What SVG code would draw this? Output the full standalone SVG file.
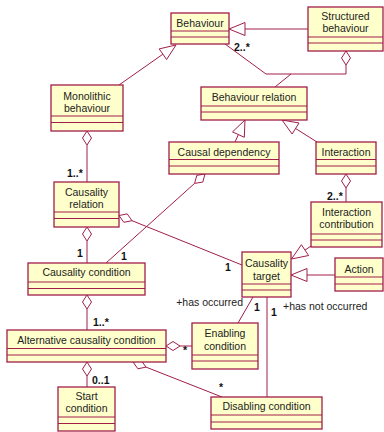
<svg xmlns="http://www.w3.org/2000/svg" width="384" height="432" viewBox="0 0 384 432">
<style>
.box{fill:#FFFFCC;stroke:#A01E4A;stroke-width:1.3}
.div{stroke:#A01E4A;stroke-width:1}
.ln{fill:none;stroke:#A01E4A;stroke-width:1}
.tri{fill:#FFFFFF;stroke:#A01E4A;stroke-width:1}
.dia{fill:#FFFFFF;stroke:#A01E4A;stroke-width:1}
text{font-family:"Liberation Sans",Arial,sans-serif;font-size:10.5px;fill:#222222}
.nm{text-anchor:middle}
.m{font-weight:bold;fill:#111111}
</style>
<rect width="384" height="432" fill="#FFFFFF"/>
<g id="connectors">
<line class="ln" x1="308" y1="29" x2="245" y2="29"/>
<polygon class="tri" points="229,29 245,22.5 245,35.5"/>
<line class="ln" x1="119" y1="85" x2="162.9" y2="54.2"/>
<polygon class="tri" points="176,45 166.6,59.5 159.2,48.9"/>
<polygon class="dia" points="346,51 350.5,58 346,65 341.5,58"/>
<polyline class="ln" points="346,65 346,74 266,74 225,44"/>
<line class="ln" x1="291" y1="74" x2="275" y2="87"/>
<line class="ln" x1="235" y1="142" x2="238.4" y2="134.6"/>
<polygon class="tri" points="245,120 244.3,137.3 232.5,131.9"/>
<line class="ln" x1="295.6" y1="128.5" x2="317" y2="142"/>
<polygon class="tri" points="282,120 292.1,134 299,123"/>
<polygon class="dia" points="87,131 91.5,138 87,145 82.5,138"/>
<line class="ln" x1="87" y1="145" x2="87" y2="182"/>
<polygon class="dia" points="87,227 91.5,234 87,241 82.5,234"/>
<line class="ln" x1="87" y1="241" x2="87" y2="263"/>
<polygon class="dia" points="119,215.5 123.8,222.3 132,220.7 127.2,213.9"/>
<line class="ln" x1="132" y1="220.7" x2="242" y2="265"/>
<polygon class="dia" points="205,174 202.8,182.05 194.6,183.4 196.8,175.35"/>
<line class="ln" x1="194.6" y1="183.4" x2="106" y2="263"/>
<polygon class="dia" points="346,174 350.5,181 346,188 341.5,181"/>
<line class="ln" x1="346" y1="188" x2="346" y2="202"/>
<line class="ln" x1="305" y1="250.1" x2="311" y2="246"/>
<polygon class="tri" points="291.5,259 308.6,255.5 301.4,244.7"/>
<line class="ln" x1="307" y1="275" x2="335" y2="275"/>
<polygon class="tri" points="291,275 307,268.5 307,281.5"/>
<polygon class="dia" points="87,295 91.5,302 87,309 82.5,302"/>
<line class="ln" x1="87" y1="309" x2="87" y2="330"/>
<polygon class="dia" points="166,346 173,341.5 180,346 173,350.5"/>
<line class="ln" x1="180" y1="346" x2="192" y2="346"/>
<polygon class="dia" points="133,362 137.9,368.8 146,367.1 141.2,360.4"/>
<line class="ln" x1="146" y1="367.1" x2="222" y2="397"/>
<polygon class="dia" points="87,362 91.5,369 87,376 82.5,369"/>
<line class="ln" x1="87" y1="376" x2="87" y2="387"/>
<line class="ln" x1="238" y1="323" x2="253" y2="297"/>
<line class="ln" x1="267" y1="297" x2="267" y2="397"/>
<text class="m" x="234" y="51">2..*</text>
<text class="m" x="67" y="177">1..*</text>
<text class="m" x="77" y="257">1</text>
<text class="m" x="225" y="271">1</text>
<text class="m" x="121" y="260">1</text>
<text class="m" x="327" y="200">2..*</text>
<text class="m" x="93" y="326">1..*</text>
<text class="m" x="183" y="354">*</text>
<text class="m" x="219" y="391">*</text>
<text class="m" x="92" y="384">0..1</text>
<text class="m" x="254" y="311">1</text>
<text class="m" x="271" y="316">1</text>
<text x="243" y="306" text-anchor="end">+has occurred</text>
<text x="283" y="310">+has not occurred</text>
</g>
<g id="behaviour">
<rect class="box" x="171" y="13" width="58" height="31"/>
<line class="div" x1="171" y1="31" x2="229" y2="31"/><line class="div" x1="171" y1="37" x2="229" y2="37"/>
<text class="nm" x="200" y="26.5">Behaviour</text>
</g>
<g id="structured-behaviour">
<rect class="box" x="308" y="7" width="75" height="44"/>
<line class="div" x1="308" y1="37" x2="383" y2="37"/><line class="div" x1="308" y1="43" x2="383" y2="43"/>
<text class="nm" x="345.5" y="19.5">Structured</text>
<text class="nm" x="345.5" y="32">behaviour</text>
</g>
<g id="monolithic-behaviour">
<rect class="box" x="51" y="85" width="72" height="46"/>
<line class="div" x1="51" y1="116" x2="123" y2="116"/><line class="div" x1="51" y1="122.5" x2="123" y2="122.5"/>
<text class="nm" x="87" y="99.5">Monolithic</text>
<text class="nm" x="87" y="112">behaviour</text>
</g>
<g id="behaviour-relation">
<rect class="box" x="201" y="87" width="106" height="33"/>
<line class="div" x1="201" y1="106" x2="307" y2="106"/><line class="div" x1="201" y1="112" x2="307" y2="112"/>
<text class="nm" x="254" y="100.5">Behaviour relation</text>
</g>
<g id="causal-dependency">
<rect class="box" x="169" y="142" width="110" height="32"/>
<line class="div" x1="169" y1="159.5" x2="279" y2="159.5"/><line class="div" x1="169" y1="166" x2="279" y2="166"/>
<text class="nm" x="224" y="155.5">Causal dependency</text>
</g>
<g id="interaction">
<rect class="box" x="316" y="142" width="60" height="32"/>
<line class="div" x1="316" y1="159.5" x2="376" y2="159.5"/><line class="div" x1="316" y1="166" x2="376" y2="166"/>
<text class="nm" x="346" y="155.5">Interaction</text>
</g>
<g id="causality-relation">
<rect class="box" x="54" y="182" width="65" height="45"/>
<line class="div" x1="54" y1="212" x2="119" y2="212"/><line class="div" x1="54" y1="218.5" x2="119" y2="218.5"/>
<text class="nm" x="86.5" y="195.5">Causality</text>
<text class="nm" x="86.5" y="207.5">relation</text>
</g>
<g id="interaction-contribution">
<rect class="box" x="311" y="202" width="71" height="45"/>
<line class="div" x1="311" y1="234" x2="382" y2="234"/><line class="div" x1="311" y1="240" x2="382" y2="240"/>
<text class="nm" x="346.5" y="216">Interaction</text>
<text class="nm" x="346.5" y="228">contribution</text>
</g>
<g id="causality-target">
<rect class="box" x="242" y="252" width="49" height="45"/>
<line class="div" x1="242" y1="284" x2="291" y2="284"/><line class="div" x1="242" y1="290" x2="291" y2="290"/>
<text class="nm" x="266.5" y="266.5">Causality</text>
<text class="nm" x="266.5" y="279.5">target</text>
</g>
<g id="action">
<rect class="box" x="335" y="258" width="48" height="33"/>
<line class="div" x1="335" y1="277" x2="383" y2="277"/><line class="div" x1="335" y1="284" x2="383" y2="284"/>
<text class="nm" x="359" y="272.5">Action</text>
</g>
<g id="causality-condition">
<rect class="box" x="28" y="263" width="117" height="32"/>
<line class="div" x1="28" y1="282" x2="145" y2="282"/><line class="div" x1="28" y1="288.5" x2="145" y2="288.5"/>
<text class="nm" x="86.5" y="276">Causality condition</text>
</g>
<g id="alternative-causality-condition">
<rect class="box" x="7" y="330" width="159" height="32"/>
<line class="div" x1="7" y1="348.5" x2="166" y2="348.5"/><line class="div" x1="7" y1="355" x2="166" y2="355"/>
<text class="nm" x="86.5" y="344">Alternative causality condition</text>
</g>
<g id="enabling-condition">
<rect class="box" x="192" y="323" width="66" height="46"/>
<line class="div" x1="192" y1="355" x2="258" y2="355"/><line class="div" x1="192" y1="361" x2="258" y2="361"/>
<text class="nm" x="225" y="337">Enabling</text>
<text class="nm" x="225" y="350">condition</text>
</g>
<g id="start-condition">
<rect class="box" x="58" y="387" width="57" height="44"/>
<line class="div" x1="58" y1="417" x2="115" y2="417"/><line class="div" x1="58" y1="423.5" x2="115" y2="423.5"/>
<text class="nm" x="86.5" y="399.5">Start</text>
<text class="nm" x="86.5" y="412">condition</text>
</g>
<g id="disabling-condition">
<rect class="box" x="211" y="397" width="111" height="32"/>
<line class="div" x1="211" y1="415" x2="322" y2="415"/><line class="div" x1="211" y1="422" x2="322" y2="422"/>
<text class="nm" x="266.5" y="410">Disabling condition</text>
</g>
</svg>
